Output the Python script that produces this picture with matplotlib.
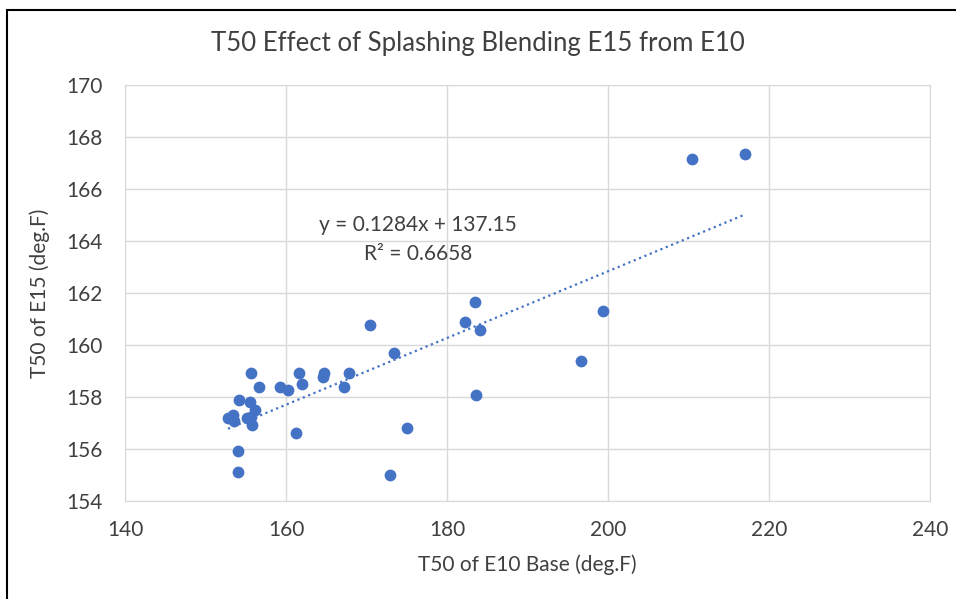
import numpy as np
import matplotlib.pyplot as plt
from matplotlib.patches import Rectangle

plt.rcParams['font.family'] = ['Lato', 'DejaVu Sans']

# T50 of E10 base vs T50 of E15 (deg.F)
e10 = [155.6, 156.6, 159.3, 160.2, 161.6, 162.0, 164.7, 164.6, 167.8, 167.2,
       154.2, 155.5, 156.1, 152.8, 153.4, 153.5, 155.1, 155.7, 155.8, 161.3,
       154.0, 154.0, 172.9, 183.5, 182.2, 184.1, 173.4, 196.7, 183.6, 175.0,
       170.4, 199.4, 210.4, 217.0]
e15 = [158.9, 158.37, 158.38, 158.27, 158.9, 158.48, 158.9, 158.75, 158.9, 158.37,
       157.88, 157.8, 157.49, 157.18, 157.28, 157.08, 157.17, 157.23, 156.9, 156.6,
       155.91, 155.09, 154.99, 161.65, 160.86, 160.57, 159.67, 159.37, 158.08, 156.81,
       160.75, 161.3, 167.14, 167.33]

slope = 0.1284
intercept = 137.15
r2 = 0.6658

txt = '#404040'
blue = '#4472C4'

fig = plt.figure(figsize=(9.56, 5.99), dpi=100)
ax = fig.add_axes([125 / 956, 1 - 500.7 / 599, 805 / 956, 415.7 / 599])

ax.scatter(e10, e15, s=72, color=blue, zorder=3, linewidths=0)

xs = np.array([min(e10), max(e10)])
ax.plot(xs, slope * xs + intercept, color=blue, lw=1.6, ls=(0, (1, 1.6)), zorder=2)

ax.text(176.4, 164.6, 'y = 0.1284x + 137.15', ha='center', va='center',
        fontsize=15, color=txt)
ax.text(176.4, 163.5, 'R² = %.4f' % r2, ha='center', va='center',
        fontsize=15, color=txt)

ax.set_xlim(140, 240)
ax.set_ylim(154, 170)
ax.set_xticks(range(140, 241, 20))
ax.set_yticks(range(154, 171, 2))
ax.grid(True, color='#D9D9D9', lw=1)
ax.set_axisbelow(True)
for s in ax.spines.values():
    s.set_color('#D9D9D9')
ax.tick_params(length=0, labelsize=15, labelcolor=txt)
ax.tick_params(axis='y', pad=16)
ax.tick_params(axis='x', pad=14)

ax.set_xlabel('T50 of E10 Base (deg.F)', fontsize=15, color=txt, labelpad=10)
ax.set_ylabel('T50 of E15 (deg.F)', fontsize=15, color=txt, labelpad=12)
fig.text(0.5, 1 - 43 / 599, 'T50 Effect of Splashing Blending E15 from E10',
         ha='center', va='center', fontsize=18.5, color=txt)

# outer chart border
fig.patches.append(Rectangle((7 / 956, -0.1), 1.2, 1 - 10 / 599 + 0.1,
                             transform=fig.transFigure, fill=False,
                             edgecolor='black', lw=1.5))

fig.savefig('out.png', dpi=100)
